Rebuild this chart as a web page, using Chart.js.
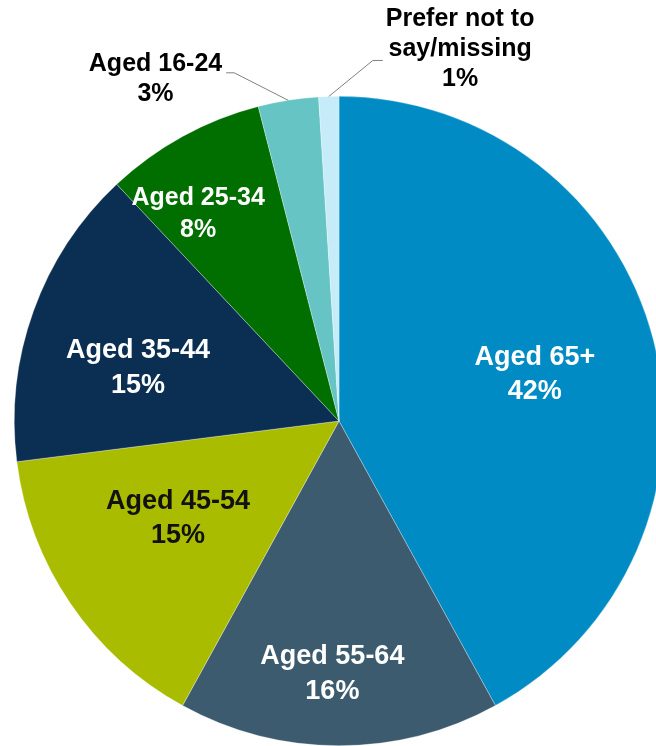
<!DOCTYPE html>
<html>
<head>
<meta charset="utf-8">
<script src="https://cdn.jsdelivr.net/npm/chart.js@4.4.1/dist/chart.umd.min.js"></script>
<style>
  html, body { margin: 0; padding: 0; background: #fff; overflow: hidden; }
  #wrap { width: 656px; height: 746px; overflow: hidden; }
</style>
</head>
<body>
<div id="wrap"><canvas id="agePie" width="678" height="746"></canvas></div>
<script>
const ageGroups = ['Aged 65+', 'Aged 55-64', 'Aged 45-54', 'Aged 35-44', 'Aged 25-34', 'Aged 16-24', 'Prefer not to say/missing'];
const sharePct = [42, 16, 15, 15, 8, 3, 1];
const sliceColors = ['#008bc4', '#3d5b6e', '#a9bc00', '#0b2f53', '#006f00', '#66c4c4', '#c6ecfa'];

const FONT = '"Liberation Sans", Arial, sans-serif';

// label lines per slice (the last one wraps over two lines)
const labelLines = [
  ['Aged 65+'], ['Aged 55-64'], ['Aged 45-54'], ['Aged 35-44'], ['Aged 25-34'],
  ['Aged 16-24'], ['Prefer not to', 'say/missing']
];

// inside labels: radius fraction, angle nudge (deg), font size, colour
const insideStyle = {
  0: { r: 0.62, da: 1, size: 27, color: '#fff' },
  1: { r: 0.78, da: 1.5, size: 27, color: '#fff' },
  2: { r: 0.58, da: 3, size: 27, color: '#111' },
  3: { r: 0.64, da: -5, size: 27, color: '#fff' },
  4: { r: 0.77, da: -5.5, size: 25, color: '#fff' }
};

// outside labels with leader lines: elbow offset from slice edge, horizontal tail, text shift
const outsideStyle = {
  5: { ex: -54, ey: -27.5, tail: -8, dy: 6 },
  6: { ex: 44, ey: -36, tail: 10, dy: -11 }
};

const pieLabels = {
  id: 'pieLabels',
  afterDatasetsDraw(chart) {
    const ctx = chart.ctx;
    const arcs = chart.getDatasetMeta(0).data;
    ctx.save();
    ctx.textAlign = 'center';
    ctx.textBaseline = 'middle';
    arcs.forEach((arc, i) => {
      const { x, y, startAngle, endAngle, outerRadius } = arc.getProps(['x', 'y', 'startAngle', 'endAngle', 'outerRadius'], true);
      const mid = (startAngle + endAngle) / 2;
      const lines = labelLines[i].concat([sharePct[i] + '%']);

      if (insideStyle[i]) {
        const s = insideStyle[i];
        const a = mid + s.da * Math.PI / 180;
        const cx = x + Math.cos(a) * outerRadius * s.r;
        const cy = y + Math.sin(a) * outerRadius * s.r;
        const lh = s.size * 1.28;
        ctx.font = 'bold ' + s.size + 'px ' + FONT;
        ctx.fillStyle = s.color;
        lines.forEach((t, k) => {
          ctx.fillText(t, cx, cy + (k - (lines.length - 1) / 2) * lh);
        });
        return;
      }

      const o = outsideStyle[i];
      const px = x + Math.cos(mid) * outerRadius;
      const py = y + Math.sin(mid) * outerRadius;
      const bx = px + o.ex, by = py + o.ey;
      const tx = bx + o.tail;
      ctx.strokeStyle = '#808080';
      ctx.lineWidth = 1;
      ctx.beginPath();
      ctx.moveTo(px, py);
      ctx.lineTo(bx, by);
      ctx.lineTo(tx, by);
      ctx.stroke();

      const size = 25, lh = 30;
      ctx.font = 'bold ' + size + 'px ' + FONT;
      ctx.fillStyle = '#000';
      const w = Math.max(...lines.map(t => ctx.measureText(t).width));
      const cx = o.tail < 0 ? tx - 4 - w / 2 : tx + 3 + w / 2;
      const cy = by + o.dy;
      lines.forEach((t, k) => {
        ctx.fillText(t, cx, cy + (k - (lines.length - 1) / 2) * lh);
      });
    });
    ctx.restore();
  }
};

new Chart(document.getElementById('agePie'), {
  type: 'pie',
  data: {
    labels: ageGroups,
    datasets: [{
      data: sharePct,
      backgroundColor: sliceColors,
      borderColor: 'rgba(255,255,255,0.5)',
      borderWidth: 0.6
    }]
  },
  options: {
    responsive: false,
    animation: false,
    layout: { padding: { top: 96, left: 0, right: 0, bottom: 0 } },
    plugins: {
      legend: { display: false },
      tooltip: { enabled: false }
    }
  },
  plugins: [pieLabels]
});
</script>
</body>
</html>
